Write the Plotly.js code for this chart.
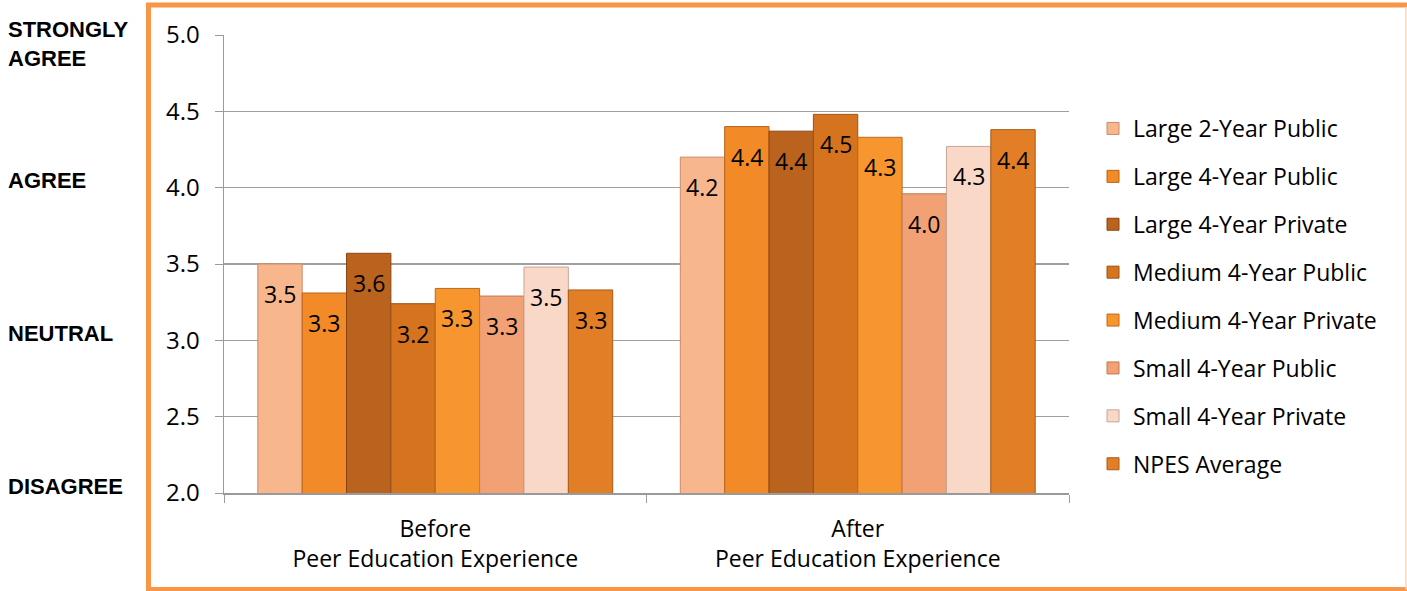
<!DOCTYPE html>
<html>
<head>
<meta charset="utf-8">
<script src="https://cdn.plot.ly/plotly-3.0.1.min.js"></script>
<style>
  html, body { margin: 0; padding: 0; background: #ffffff; }
  #chart { width: 1407px; height: 591px; }
</style>
</head>
<body>
<div id="chart"></div>
<script>
// Mean self-rating before and after the peer education experience, by institution type
const categories = ['Before<br>Peer Education Experience', 'After<br>Peer Education Experience'];
const seriesNames = [
  'Large 2-Year Public',
  'Large 4-Year Public',
  'Large 4-Year Private',
  'Medium 4-Year Public',
  'Medium 4-Year Private',
  'Small 4-Year Public',
  'Small 4-Year Private',
  'NPES Average'
];
const large2Public   = [3.50, 4.20];
const large4Public   = [3.31, 4.40];
const large4Private  = [3.57, 4.37];
const medium4Public  = [3.24, 4.48];
const medium4Private = [3.34, 4.33];
const small4Public   = [3.29, 3.96];
const small4Private  = [3.48, 4.27];
const npesAverage    = [3.33, 4.38];
const seriesValues = [large2Public, large4Public, large4Private, medium4Public,
                      medium4Private, small4Public, small4Private, npesAverage];

const seriesColors = ['#F8B68C', '#F38A28', '#BA631F', '#D5731F',
                      '#F7952E', '#F2A175', '#FAD8C7', '#E27E25'];
const seriesEdges  = ['#C98A66', '#B86219', '#8A4512', '#9C5214',
                      '#BD6A18', '#BF7A55', '#C8A494', '#A85A18'];

const yTicks = [2.0, 2.5, 3.0, 3.5, 4.0, 4.5, 5.0];
const scaleLabels = [
  { value: 5.0, text: 'STRONGLY<br>AGREE' },
  { value: 4.0, text: 'AGREE' },
  { value: 3.0, text: 'NEUTRAL' },
  { value: 2.0, text: 'DISAGREE' }
];

const bodyFont = '"Open Sans", "Noto Sans", sans-serif';
const bargap = 0.16;

const traces = seriesNames.map((name, i) => ({
  type: 'bar',
  name: name,
  x: categories,
  y: seriesValues[i],
  legendgroup: 'g' + i,
  marker: { color: seriesColors[i], line: { color: seriesEdges[i], width: 1 } },
  hoverinfo: 'skip'
}));

// Plot area spans 224..1069 px horizontally and 35..493 px vertically
const plotL = 224, plotR = 1069, plotT = 35, plotB = 493;
const pw = plotR - plotL, ph = plotB - plotT;
const px = v => (v - plotL) / pw;
const py = v => (plotB - v) / ph;

// value labels sit inside the top of each bar, centred on the bar's slot in its group
const nSeries = seriesNames.length;
const slot = (1 - bargap) / nSeries;
const valueLabels = [];
seriesValues.forEach((vals, i) => {
  vals.forEach((v, c) => {
    valueLabels.push({
      xref: 'x', yref: 'y',
      x: c - (1 - bargap) / 2 + slot * (i + 0.5),
      y: v,
      yshift: -30,
      xanchor: 'center', yanchor: 'middle',
      showarrow: false,
      text: v.toFixed(1),
      font: { family: bodyFont, size: 23, color: '#000000' }
    });
  });
});

const sideLabels = scaleLabels.map(s => {
  const twoLine = s.text.indexOf('<br>') >= 0;
  return {
    xref: 'paper', yref: 'y',
    x: px(6), y: s.value,
    xanchor: 'left', yanchor: twoLine ? 'top' : 'middle',
    yshift: twoLine ? 20 : 7,
    align: 'left',
    showarrow: false,
    text: '<b>' + s.text + '</b>',
    font: { family: '"Liberation Sans", Arial, sans-serif', size: 22, color: '#000000' }
  };
});

const layout = {
  width: 1407,
  height: 591,
  margin: { l: plotL, r: 1407 - plotR, t: plotT, b: 591 - plotB },
  paper_bgcolor: '#ffffff',
  plot_bgcolor: '#ffffff',
  barmode: 'group',
  bargap: bargap,
  bargroupgap: 0,
  font: { family: bodyFont, color: '#000000' },
  xaxis: {
    type: 'category',
    tickson: 'boundaries',
    ticks: 'outside',
    ticklen: 8,
    tickcolor: '#9A9A9A',
    showline: true,
    linecolor: '#9A9A9A',
    linewidth: 1.5,
    showgrid: false,
    tickfont: { family: bodyFont, size: 23, color: '#000000' },
    ticklabelstandoff: 15
  },
  yaxis: {
    range: [2, 5],
    tickvals: yTicks,
    tickformat: '.1f',
    ticks: 'outside',
    ticklen: 8,
    tickcolor: '#9A9A9A',
    showline: true,
    linecolor: '#9A9A9A',
    linewidth: 1.5,
    showgrid: true,
    gridcolor: '#A0A0A0',
    gridwidth: 1.5,
    zeroline: false,
    tickfont: { family: bodyFont, size: 24, color: '#000000' },
    ticklabelstandoff: 10
  },
  legend: {
    x: px(1093),
    y: py(107),
    xanchor: 'left',
    yanchor: 'top',
    traceorder: 'grouped',
    tracegroupgap: 15,
    font: { family: bodyFont, size: 23, color: '#000000' },
    bgcolor: 'rgba(0,0,0,0)'
  },
  annotations: sideLabels.concat(valueLabels),
  shapes: [
    // orange frame around the chart body
    {
      type: 'rect', xref: 'paper', yref: 'paper', layer: 'above',
      x0: px(148.5), x1: px(1412), y0: py(589.5), y1: py(5),
      line: { color: '#F79646', width: 5 },
      fillcolor: 'rgba(0,0,0,0)'
    },
    {
      type: 'line', xref: 'paper', yref: 'paper', layer: 'above',
      x0: px(1406), x1: px(1406), y0: py(589.5), y1: py(7),
      line: { color: '#FBD6B4', width: 1.5 }
    }
  ]
};

Plotly.newPlot('chart', traces, layout, { displayModeBar: false, staticPlot: true });
</script>
</body>
</html>
